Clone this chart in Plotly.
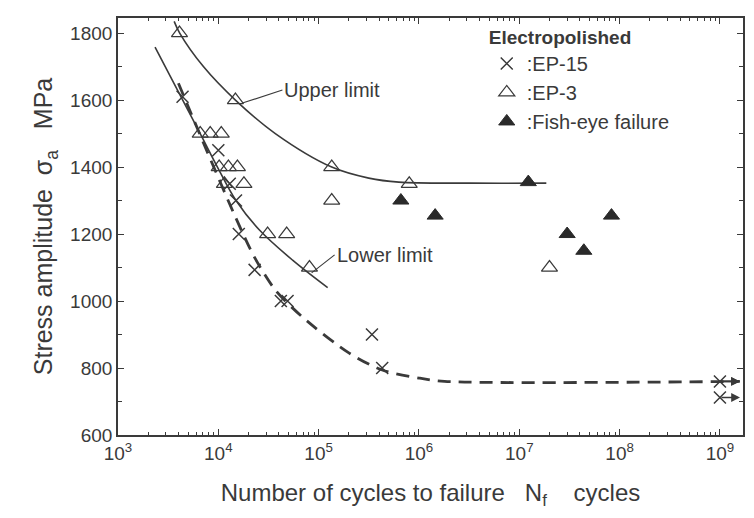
import plotly.graph_objects as go
import numpy as np

# ---- data ----
ep15_N = [4.4e3, 1.0e4, 1.3e4, 1.5e4, 1.6e4, 2.3e4, 4.2e4, 4.9e4, 3.4e5, 4.3e5]
ep15_S = [1610, 1450, 1350, 1300, 1200, 1093, 1000, 1000, 900, 800]

runout_N = [1.0e9, 1.0e9]
runout_S = [760, 712]

ep3_N = [4.1e3, 1.48e4, 6.6e3, 8.3e3, 1.07e4, 1.02e4, 1.26e4, 1.55e4, 1.15e4, 1.8e4,
         1.35e5, 1.35e5, 8.0e5, 3.1e4, 4.8e4, 8.1e4, 2.0e7]
ep3_S = [1800, 1600, 1500, 1500, 1500, 1400, 1400, 1400, 1350, 1350,
         1400, 1300, 1350, 1200, 1200, 1100, 1100]

fish_N = [6.6e5, 1.45e6, 1.23e7, 3.0e7, 4.4e7, 8.3e7]
fish_S = [1300, 1255, 1355, 1200, 1150, 1255]

upper_N = [3.63e3, 4.12e3, 7.1e3, 1.48e4, 3.7e4, 1.35e5, 3.16e5, 6.3e5, 3.2e6, 1.86e7]
upper_S = [1835, 1800, 1700, 1600, 1500, 1400, 1367, 1355, 1352, 1352]

lower_N = [2.34e3, 6.6e3, 9.8e3, 1.5e4, 2.57e4, 5.5e4, 1.23e5]
lower_S = [1758, 1500, 1400, 1300, 1212, 1122, 1040]

dash_N = [4.0e3, 7.9e3, 1.48e4, 2.29e4, 3.7e4, 6.9e4, 2.0e5, 4.3e5, 1.0e6, 1.8e6, 1.58e9]
dash_S = [1650, 1440, 1251, 1131, 1033, 952, 845, 794, 770, 760, 760]

x_tickvals = [1e3, 1e4, 1e5, 1e6, 1e7, 1e8, 1e9]
x_ticktext = ["10<sup>%d</sup>" % e for e in range(3, 10)]
y_tickvals = [600, 800, 1000, 1200, 1400, 1600, 1800]

INK = "#3a3a3a"
FONT = "Liberation Sans, Arial, sans-serif"

fig = go.Figure()

# curves
fig.add_trace(go.Scatter(x=upper_N, y=upper_S, mode="lines", line=dict(color=INK, width=1.6, shape="spline", smoothing=1.0),
                         showlegend=False, hoverinfo="skip"))
fig.add_trace(go.Scatter(x=lower_N, y=lower_S, mode="lines", line=dict(color=INK, width=1.6, shape="spline", smoothing=1.0),
                         showlegend=False, hoverinfo="skip"))
fig.add_trace(go.Scatter(x=dash_N, y=dash_S, mode="lines", line=dict(color=INK, width=2.8, dash="13px,8px", shape="spline", smoothing=0.8),
                         showlegend=False, hoverinfo="skip"))

# points
fig.add_trace(go.Scatter(x=ep15_N + runout_N, y=ep15_S + runout_S, mode="markers", name=":EP-15",
                         legendgroup="a",
                         marker=dict(symbol="x-thin", size=12, line=dict(color=INK, width=1.5), color=INK)))
fig.add_trace(go.Scatter(x=ep3_N, y=ep3_S, mode="markers", name=":EP-3", legendgroup="b",
                         marker=dict(symbol="triangle-up-open", size=14, line=dict(color=INK, width=1.2), color=INK)))
fig.add_trace(go.Scatter(x=fish_N, y=fish_S, mode="markers", name=":Fish-eye failure", legendgroup="c",
                         marker=dict(symbol="triangle-up", size=14, color="#2a2a2a", line=dict(color="#2a2a2a", width=1))))

# runout arrows
annotations = []
arrow_len = 0.2  # decades
for n, s in zip(runout_N + [dash_N[-1] / 10 ** arrow_len], runout_S + [dash_S[-1]]):
    annotations.append(dict(x=np.log10(n) + arrow_len, y=s, ax=np.log10(n), ay=s, xref="x", yref="y",
                            axref="x", ayref="y", text="", showarrow=True, arrowhead=2, arrowsize=1.1,
                            arrowwidth=1.6, arrowcolor=INK))

annotations.append(dict(x=np.log10(upper_N[3]) + 0.07, y=upper_S[3] - 9, xref="x", yref="y", text="Upper limit",
                        showarrow=True, arrowhead=0, arrowwidth=1.1, arrowcolor=INK, ax=40, ay=-13,
                        xanchor="left", font=dict(size=20, color=INK, family=FONT)))
annotations.append(dict(x=np.log10(lower_N[-1]) - 0.16, y=lower_S[-1] + 44, xref="x", yref="y", text="Lower limit",
                        showarrow=True, arrowhead=0, arrowwidth=1.1, arrowcolor=INK, ax=23, ay=-18,
                        xanchor="left", font=dict(size=20, color=INK, family=FONT)))

fig.update_layout(
    width=754, height=518,
    margin=dict(l=118, r=9, t=18, b=83),
    paper_bgcolor="white", plot_bgcolor="white",
    font=dict(family=FONT, color=INK, size=19),
    annotations=annotations,
    legend=dict(x=0.59, y=0.997, xanchor="left", yanchor="top", bgcolor="rgba(0,0,0,0)",
                title=dict(text="<b>Electropolished</b>", font=dict(size=19, color=INK)),
                font=dict(size=20, color=INK), tracegroupgap=0, itemwidth=30),
)

fig.update_xaxes(type="log", range=[3, 9.23], tickvals=x_tickvals, ticktext=x_ticktext,
                 ticks="inside", ticklen=6, tickwidth=1.2, tickcolor=INK,
                 minor=dict(ticks="inside", ticklen=3, tickwidth=1, tickcolor=INK, dtick="D1"),
                 showline=True, linecolor=INK, linewidth=1.6, mirror="ticks", showgrid=False, zeroline=False,
                 tickfont=dict(size=19, color=INK),
                 title=dict(text="Number of cycles to failure   N<sub>f</sub>    cycles", font=dict(size=24, color=INK), standoff=22))
fig.update_yaxes(range=[600, 1845], tickvals=y_tickvals,
                 ticks="inside", ticklen=6, tickwidth=1.2, tickcolor=INK,
                 minor=dict(ticks="inside", ticklen=4, tickwidth=1, tickcolor=INK, dtick=100),
                 showline=True, linecolor=INK, linewidth=1.6, mirror="ticks", showgrid=False, zeroline=False,
                 tickfont=dict(size=19, color=INK),
                 title=dict(text="Stress amplitude  σ<sub>a</sub>   MPa", font=dict(size=25, color=INK), standoff=10))

fig.write_html("out.html")
